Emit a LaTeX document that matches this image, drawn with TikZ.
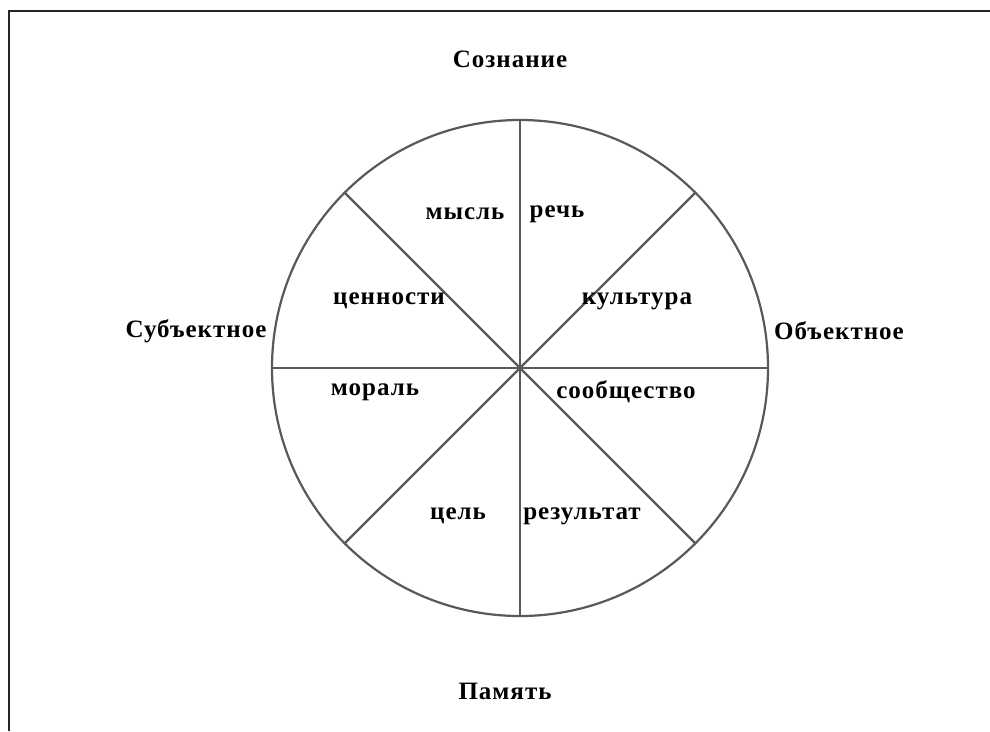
\documentclass[tikz,border=0pt]{standalone}
\usepackage{fontspec}
\setmainfont{Liberation Serif}
\newfontfamily\lblfont[LetterSpace=4]{Liberation Serif}
\begin{document}
\begin{tikzpicture}[x=1pt,y=-1pt,
  lbl/.style={font=\lblfont\fontsize{25}{28}\selectfont\bfseries, inner sep=0pt, anchor=center},
  spoke/.style={draw=black!65, line width=2.2pt},
  frame/.style={draw=black!85, line width=2pt}]
\useasboundingbox (0,0) rectangle (990,731);
\fill[white] (0,0) rectangle (990,731);
\draw[frame] (9,731) -- (9,11) -- (990,11);
% circle
\coordinate (C) at (520,368);
\draw[spoke] (C) circle[radius=248];
\coordinate (N) at (520,120);
\coordinate (S) at (520,616);
\coordinate (W) at (272,368);
\coordinate (E) at (768,368);
\coordinate (NW) at (344.6,192.6);
\coordinate (NE) at (695.4,192.6);
\coordinate (SW) at (344.6,543.4);
\coordinate (SE) at (695.4,543.4);
\draw[spoke] (N) -- (S);
\draw[spoke] (W) -- (E);
\draw[spoke] (NW) -- (SE);
\draw[spoke] (NE) -- (SW);
% outer labels
\node[lbl] (t1) at (510,59) {Сознание};
\node[lbl] (t2) at (196,331) {Субъектное};
\node[lbl] (t3) at (839,331) {Объектное};
\node[lbl] (t4) at (505,691) {Память};
% inner labels
\node[lbl] (a1) at (465,214) {мысль};
\node[lbl] (a2) at (557,214) {речь};
\node[lbl] (a3) at (389,301) {ценности};
\node[lbl] (a4) at (637,301) {культура};
\node[lbl] (a5) at (375,392) {мораль};
\node[lbl] (a6) at (626,392) {сообщество};
\node[lbl] (a7) at (458,516) {цель};
\node[lbl] (a8) at (582,516) {результат};
\end{tikzpicture}
\end{document}
